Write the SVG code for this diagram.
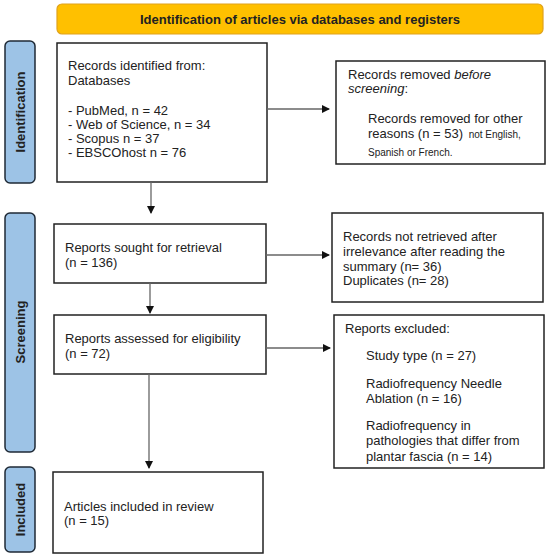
<svg xmlns="http://www.w3.org/2000/svg" width="550" height="556" viewBox="0 0 550 556">
<defs>
<marker id="ah" markerWidth="8" markerHeight="8" refX="7" refY="4" orient="auto" markerUnits="userSpaceOnUse">
<path d="M0,0 L8,4 L0,8 Z" fill="#111"/>
</marker>
<style>
.box{fill:#fff;stroke:#222;stroke-width:1.5}
.side{fill:#9dc3e6;stroke:#1f2a36;stroke-width:1.5}
.t{font-family:"Liberation Sans",Arial,sans-serif;font-size:13px;fill:#222}
.s{font-size:10px}
.sl{font-family:"Liberation Sans",Arial,sans-serif;font-size:13px;font-weight:bold;fill:#222;text-anchor:middle}
.c{stroke:#666;stroke-width:1.3;fill:none;marker-end:url(#ah)}
</style>
</defs>
<g id="banner">
<rect x="57" y="4" width="486" height="30" rx="5" fill="#ffc000" stroke="#e0a21c" stroke-width="1.2"/>
<text class="sl" x="300" y="23.5">Identification of articles via databases and registers</text>
</g>
<g id="lbl-identification">
<rect class="side" x="5" y="41" width="30" height="142" rx="5"/>
<text class="sl" transform="translate(24.5,112) rotate(-90)">Identification</text>
</g>
<g id="lbl-screening">
<rect class="side" x="5" y="213" width="30" height="239" rx="5"/>
<text class="sl" transform="translate(24.5,332) rotate(-90)">Screening</text>
</g>
<g id="lbl-included">
<rect class="side" x="5" y="467" width="30" height="85" rx="5"/>
<text class="sl" transform="translate(24.5,509.5) rotate(-90)">Included</text>
</g>
<g id="records-identified">
<rect class="box" x="57" y="43" width="210" height="139"/>
<text class="t" x="68" y="69.5">Records identified from:</text>
<text class="t" x="68" y="84.5">Databases</text>
<text class="t" x="68" y="114.5">- PubMed, n = 42</text>
<text class="t" x="68" y="128.5">- Web of Science, n = 34</text>
<text class="t" x="68" y="142.5">- Scopus n = 37</text>
<text class="t" x="68" y="157">- EBSCOhost n = 76</text>
</g>
<g id="records-removed">
<rect class="box" x="336" y="61" width="209" height="103"/>
<text class="t" x="348" y="78.5">Records removed <tspan font-style="italic">before</tspan></text>
<text class="t" x="348" y="93"><tspan font-style="italic">screening</tspan>:</text>
<text class="t" x="368" y="122.5">Records removed for other</text>
<text class="t" x="368" y="137.5">reasons (n = 53) <tspan class="s" dx="2">not English,</tspan></text>
<text class="t s" x="368" y="155.5">Spanish or French.</text>
</g>
<g id="reports-sought">
<rect class="box" x="54" y="224" width="212" height="59"/>
<text class="t" x="65" y="251.5">Reports sought for retrieval</text>
<text class="t" x="65" y="266.5">(n = 136)</text>
</g>
<g id="not-retrieved">
<rect class="box" x="332" y="213" width="211" height="89"/>
<text class="t" x="343" y="240.5">Records not retrieved after</text>
<text class="t" x="343" y="255.5">irrelevance after reading the</text>
<text class="t" x="343" y="270.5">summary (n= 36)</text>
<text class="t" x="343" y="284.5">Duplicates (n= 28)</text>
</g>
<g id="reports-assessed">
<rect class="box" x="54" y="315" width="212" height="59"/>
<text class="t" x="65" y="342.5">Reports assessed for eligibility</text>
<text class="t" x="65" y="357.5">(n = 72)</text>
</g>
<g id="reports-excluded">
<rect class="box" x="334" y="315" width="210" height="153"/>
<text class="t" x="345" y="332.5">Reports excluded:</text>
<text class="t" x="366" y="359.5">Study type (n = 27)</text>
<text class="t" x="366" y="387.5">Radiofrequency Needle</text>
<text class="t" x="366" y="402.5">Ablation (n = 16)</text>
<text class="t" x="366" y="429.5">Radiofrequency in</text>
<text class="t" x="366" y="445">pathologies that differ from</text>
<text class="t" x="366" y="460.5">plantar fascia (n = 14)</text>
</g>
<g id="included">
<rect class="box" x="53" y="472" width="210" height="81"/>
<text class="t" x="64" y="510.5">Articles included in review</text>
<text class="t" x="64" y="524.5">(n = 15)</text>
</g>
<g id="connectors">
<line class="c" x1="267" y1="109" x2="329" y2="109"/>
<line class="c" x1="151" y1="182" x2="151" y2="213"/>
<line class="c" x1="266" y1="255" x2="329" y2="255"/>
<line class="c" x1="150" y1="283" x2="150" y2="313"/>
<line class="c" x1="266" y1="348" x2="330" y2="348"/>
<line class="c" x1="149" y1="374" x2="149" y2="468"/>
</g>
</svg>
